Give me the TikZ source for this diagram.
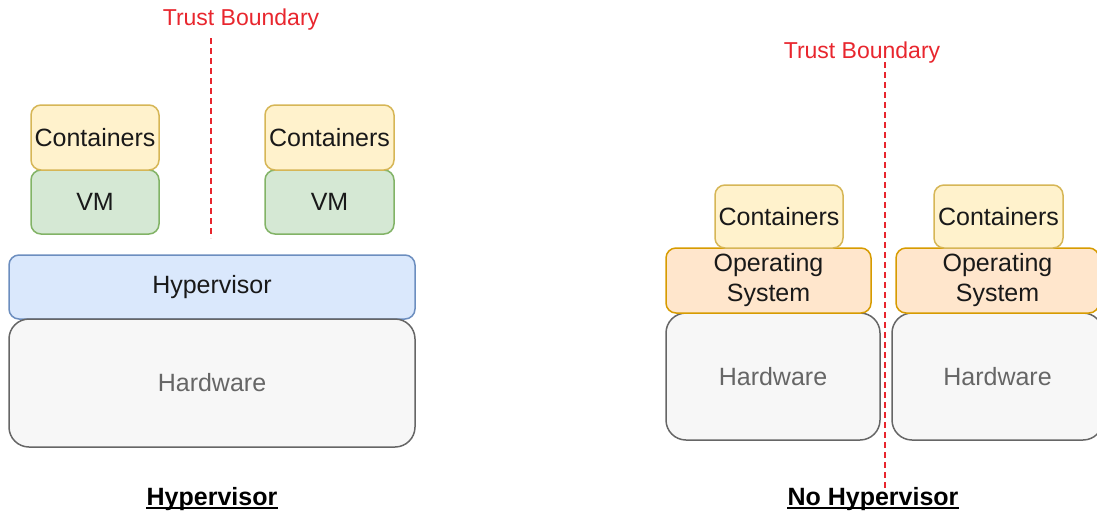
\documentclass[tikz,border=0pt]{standalone}
\usepackage{fontspec}
\setmainfont{Liberation Sans}
\definecolor{cfill}{HTML}{FFF2CC}\definecolor{cdraw}{HTML}{D6B656}
\definecolor{vfill}{HTML}{D5E8D4}\definecolor{vdraw}{HTML}{82B366}
\definecolor{hfill}{HTML}{DAE8FC}\definecolor{hdraw}{HTML}{6C8EBF}
\definecolor{gfill}{HTML}{F7F7F7}\definecolor{gdraw}{HTML}{666666}
\definecolor{ofill}{HTML}{FFE6CC}\definecolor{odraw}{HTML}{D79B00}
\definecolor{tred}{HTML}{E8262E}
\begin{document}
\begin{tikzpicture}[x=1pt,y=-1pt,
  box/.style={draw, rounded corners=10pt, line width=1.5pt, inner sep=0pt, align=center,
    font=\fontsize{25}{30}\selectfont, text=black!90},
  cont/.style={box, fill=cfill, draw=cdraw},
  vmbox/.style={box, fill=vfill, draw=vdraw},
  hyp/.style={box, fill=hfill, draw=hdraw},
  hw/.style={box, fill=gfill, draw=gdraw, text=gdraw, rounded corners=20pt},
  osbox/.style={box, fill=ofill, draw=odraw},
  tblabel/.style={inner sep=0pt, text=tred, font=\fontsize{23}{27}\selectfont},
  tbline/.style={draw=tred, line width=2pt, dash pattern=on 6pt off 4pt},
  title/.style={inner sep=0pt, anchor=base, font=\fontsize{25}{30}\selectfont\bfseries},
  uline/.style={line width=1.5pt}
]
\useasboundingbox (0,0) rectangle (1097,512);
% ---------- left: Hypervisor ----------
\node[tblabel] (tbL) at (241,20) {Trust Boundary};
\coordinate (tbLa) at (211,38);
\coordinate (tbLb) at (211,238);
\draw[tbline] (tbLa) -- (tbLb);
\node[hyp, minimum width=406pt, minimum height=64pt] (hyp) at (212,287) {Hypervisor};
\node[hw, minimum width=406pt, minimum height=128pt] (hwL) at (212,383) {Hardware};
\node[vmbox, minimum width=128pt, minimum height=64pt] (vm1) at (95,202) {VM};
\node[cont, minimum width=128pt, minimum height=65pt] (c1) at (95,137.5) {Containers};
\node[vmbox, minimum width=129pt, minimum height=64pt] (vm2) at (329.5,202) {VM};
\node[cont, minimum width=129pt, minimum height=65pt] (c2) at (329.5,137.5) {Containers};
\node[title] (tL) at (212,505) {Hypervisor};
\draw[uline] ([yshift=-3pt]tL.base west) -- ([yshift=-3pt]tL.base east);
% ---------- right: No Hypervisor ----------
\coordinate (tbRa) at (885,62);
\coordinate (tbRb) at (885,488);
\draw[tbline] (tbRa) -- (tbRb);
\node[tblabel] (tbR) at (862,53) {Trust Boundary};
\node[hw, minimum width=214pt, minimum height=127pt] (hw1) at (773,376.5) {Hardware};
\node[osbox, minimum width=205pt, minimum height=65pt] (os1) at (768.5,280.5) {Operating\\System};
\node[cont, minimum width=128pt, minimum height=63pt] (c3) at (779,216.5) {Containers};
\node[hw, minimum width=211pt, minimum height=127pt] (hw2) at (997.5,376.5) {Hardware};
\node[osbox, minimum width=203pt, minimum height=65pt] (os2) at (997.5,280.5) {Operating\\System};
\node[cont, minimum width=129pt, minimum height=63pt] (c4) at (998.5,216.5) {Containers};
\node[title] (tR) at (873,505) {No Hypervisor};
\draw[uline] ([yshift=-3pt]tR.base west) -- ([yshift=-3pt]tR.base east);
\end{tikzpicture}
\end{document}
